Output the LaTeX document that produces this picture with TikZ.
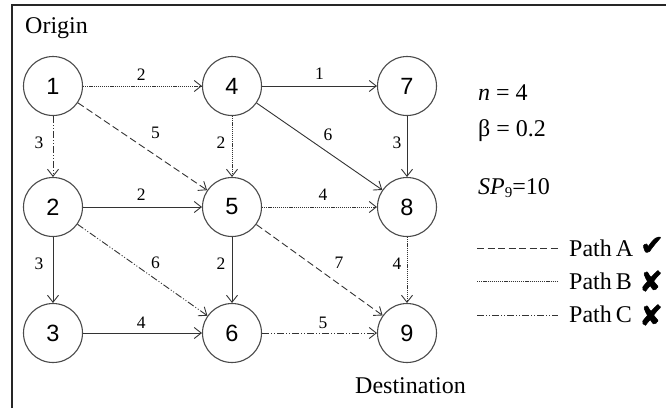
\documentclass[tikz,border=0pt]{standalone}
\usepackage{fontspec}
\setmainfont{Liberation Serif}
\newfontfamily\nodefont{Liberation Sans}
\newfontfamily\symfont[FakeBold=2]{DejaVu Sans}
\usetikzlibrary{arrows.meta}
\definecolor{edgec}{HTML}{333333}
\definecolor{circc}{HTML}{4A4A4A}
\tikzset{
  vtx/.style={circle, draw=circc, line width=1.1pt, minimum size=59pt, inner sep=0pt, font=\nodefont\fontsize{23.5}{24}\selectfont},
  conn/.style={draw=edgec, line width=0.9pt, -{Straight Barb[length=7pt,width=11pt,line width=0.9pt]}},
  pathA/.style={dash pattern=on 7pt off 3.5pt},
  pathB/.style={dash pattern=on 1.2pt off 0.9pt},
  pathC/.style={dash pattern=on 7pt off 2pt on 1pt off 2pt on 1pt off 2pt},
  lbl/.style={inner sep=0pt, font=\fontsize{17.5}{17.5}\selectfont},
  txt/.style={inner sep=0pt, anchor=base west, font=\fontsize{24}{24}\selectfont},
  legline/.style={draw=edgec, line width=0.9pt},
  tickmark/.style={inner sep=0pt, font=\symfont\fontsize{28}{28}\selectfont}
}
\begin{document}
\begin{tikzpicture}[x=1pt,y=-1pt]
\useasboundingbox (0,0) rectangle (666,408);
% frame
\draw[line width=1.2pt, black!85] (12,408) -- (12,5) -- (666,5);
% nodes
\node[vtx] (n1) at (53,86) {1};
\node[vtx] (n4) at (232,86) {4};
\node[vtx] (n7) at (407,86) {7};
\node[vtx] (n2) at (53,207) {2};
\node[vtx] (n5) at (232,207) {5};
\node[vtx] (n8) at (407,207) {8};
\node[vtx] (n3) at (53,333) {3};
\node[vtx] (n6) at (232,333) {6};
\node[vtx] (n9) at (407,333) {9};
% edges
\draw[conn,pathB] (n1) -- node[lbl,pos=0.49,yshift=11.5pt] (l14) {2} (n4);
\draw[conn] (n4) -- node[lbl,pos=0.5,yshift=12.5pt] (l47) {1} (n7);
\draw[conn] (n2) -- node[lbl,pos=0.49,yshift=12pt] (l25) {2} (n5);
\draw[conn,pathB] (n5) -- node[lbl,pos=0.53,yshift=12pt] (l58) {4} (n8);
\draw[conn] (n3) -- node[lbl,pos=0.49,yshift=10.5pt] (l36) {4} (n6);
\draw[conn,pathC] (n6) -- node[lbl,pos=0.53,yshift=10.5pt] (l69) {5} (n9);
\draw[conn,pathC] (n1) -- node[lbl,pos=0.44,xshift=-14pt] (l12) {3} (n2);
\draw[conn,pathB] (n4) -- node[lbl,pos=0.44,xshift=-11pt] (l45) {2} (n5);
\draw[conn] (n7) -- node[lbl,pos=0.44,xshift=-10pt] (l78) {3} (n8);
\draw[conn] (n2) -- node[lbl,pos=0.40,xshift=-14pt] (l23) {3} (n3);
\draw[conn] (n5) -- node[lbl,pos=0.40,xshift=-11pt] (l56) {2} (n6);
\draw[conn,pathB] (n8) -- node[lbl,pos=0.40,xshift=-10pt] (l89) {4} (n9);
\draw[conn,pathA] (n1) -- node[lbl,pos=0.60,yshift=22pt] (l15) {5} (n5);
\draw[conn] (n4) -- node[lbl,pos=0.567,yshift=17.5pt] (l48) {6} (n8);
\draw[conn,pathC] (n2) -- node[lbl,pos=0.60,yshift=16.5pt] (l26) {6} (n6);
\draw[conn,pathA] (n5) -- node[lbl,pos=0.654,yshift=21pt] (l59) {7} (n9);
% texts
\node[txt] (origin) at (25,33.5) {Origin};
\node[txt] (dest) at (355,393) {Destination};
\node[txt] (nval) at (478,100.5) {\textit{n} = 4};
\node[txt] (beta) at (478,136) {β = 0.2};
\node[txt] (sp) at (478,194) {\textit{SP}\raisebox{-0.35ex}{\fontsize{15}{15}\selectfont 9}=10};
% legend
\coordinate (la1) at (477,248); \coordinate (la2) at (558,248);
\coordinate (lb1) at (477,281); \coordinate (lb2) at (558,281);
\coordinate (lc1) at (477,315.5); \coordinate (lc2) at (558,315.5);
\draw[legline,pathA] (la1) -- (la2);
\draw[legline,pathB] (lb1) -- (lb2);
\draw[legline,pathC] (lc1) -- (lc2);
\node[txt] (pa) at (569,256) {Path\kern4pt A};
\node[txt] (pb) at (569,289.3) {Path\kern4pt B};
\node[txt] (pc) at (569,322.7) {Path\kern4pt C};
\node[tickmark] (ca) at (652,246) {✔};
\node[tickmark] (cb) at (651,281) {✘};
\node[tickmark] (cc) at (651,315) {✘};
\end{tikzpicture}
\end{document}
